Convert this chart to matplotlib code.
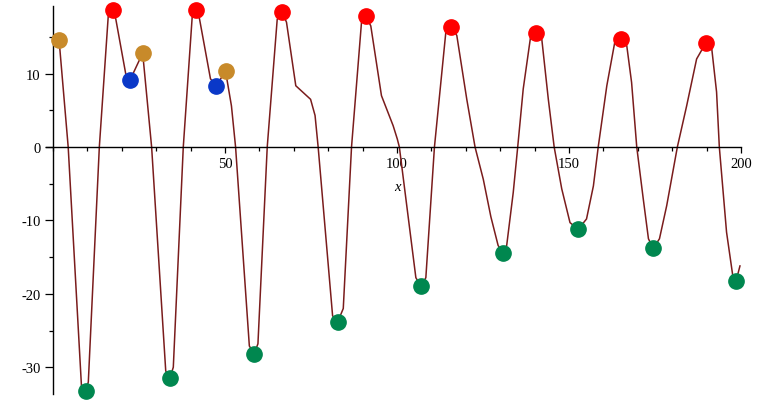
import matplotlib.pyplot as plt
from matplotlib.ticker import MultipleLocator, FixedLocator

# curve vertices
curve_x = [1.8, 4.45, 8.3, 9.5, 10.3, 13.5, 16.1, 17.6, 18.3, 21.2, 22.4, 26.1,
           28.7, 32.8, 34.0, 35.0, 37.9, 40.5, 41.6, 42.6, 45.8, 47.4, 50.2,
           51.9, 53.1, 57.1, 58.5, 59.6, 62.3, 65.2, 66.7, 67.9, 70.6, 74.9,
           76.2, 77.1, 81.3, 82.8, 84.4, 86.8, 89.7, 91.0, 92.4, 95.5, 98.9,
           100.1, 100.7, 105.5, 107.0, 108.4, 110.9, 114.2, 115.8, 117.4, 120.3,
           122.7, 125.1, 127.3, 129.4, 130.8, 131.9, 133.8, 135.1, 136.7, 138.9,
           140.4, 142.1, 144.0, 145.7, 147.9, 150.3, 152.7, 155.1, 157.1, 158.5,
           161.0, 163.4, 165.0, 166.8, 168.2, 169.7, 171.6, 173.1, 174.5, 176.3,
           178.4, 181.5, 184.2, 187.1, 189.8, 191.5, 192.9, 193.7, 195.8, 197.6,
           198.5, 199.7]
curve_y = [14.6, 0, -32.5, -33.4, -32.0, 0, 17.9, 18.7, 17.4, 9.9, 9.1, 12.8,
           0, -30.5, -31.5, -30.0, 0, 17.8, 18.7, 17.5, 9.3, 8.35, 10.3,
           5.6, 0, -27.1, -28.2, -26.8, 0, 17.4, 18.35, 17.0, 8.35, 6.5,
           4.3, 0, -23.0, -23.8, -22.0, 0, 17.0, 17.8, 16.5, 7.0, 2.9,
           1.1, 0, -17.8, -19.0, -17.8, 0, 15.6, 16.4, 15.2, 6.5,
           0, -4.4, -9.5, -13.4, -14.5, -13.4, -6.2, 0, 7.9, 15.2,
           15.5, 14.7, 6.5, 0, -5.7, -10.3, -11.2, -9.8, -5.3, 0,
           8.35, 14.5, 14.6, 13.8, 8.8, 0, -7.1, -12.5, -13.8, -12.5,
           -8.0, 0, 5.6, 12.0, 14.2, 13.4, 7.5, 0, -11.6, -17.5,
           -18.35, -16.2]

# local maxima (red)
max_x = [17.6, 41.6, 66.7, 91.0, 115.8, 140.5, 165.0, 189.8]
max_y = [18.7, 18.7, 18.35, 17.8, 16.4, 15.5, 14.7, 14.2]

# local minima (green)
min_x = [9.5, 34.0, 58.5, 82.8, 107.0, 130.8, 152.7, 174.5, 198.5]
min_y = [-33.3, -31.5, -28.2, -23.8, -19.0, -14.5, -11.2, -13.8, -18.3]

# other points (orange and blue)
orange_x = [1.8, 26.1, 50.2]
orange_y = [14.6, 12.8, 10.3]
blue_x = [22.4, 47.4]
blue_y = [9.1, 8.35]

plt.rcParams['axes.unicode_minus'] = False
plt.rcParams['font.family'] = ['Liberation Serif', 'DejaVu Serif']

fig = plt.figure(figsize=(7.6, 4.02), dpi=100)
ax = fig.add_axes([46 / 760, 1 - 395.4 / 402, (741 - 46) / 760, (395.4 - 7.1) / 402])

ax.plot(curve_x, curve_y, color='#7a1c1c', linewidth=1.1, zorder=2)

msize = 11
ax.plot(max_x, max_y, 'o', color='#ff0000', markersize=msize, zorder=3, clip_on=False)
ax.plot(min_x, min_y, 'o', color='#00874f', markersize=msize, zorder=3, clip_on=False)
ax.plot(orange_x, orange_y, 'o', color='#c88a2a', markersize=msize, zorder=3, clip_on=False)
ax.plot(blue_x, blue_y, 'o', color='#0a38c8', markersize=msize, zorder=3, clip_on=False)

ax.set_xlim(-2, 200)
ax.set_ylim(-33.7, 19.2)

# axes through the origin
ax.spines['left'].set_position(('data', 0))
ax.spines['bottom'].set_position(('data', 0))
ax.spines['top'].set_visible(False)
ax.spines['right'].set_visible(False)
for s in ['left', 'bottom']:
    ax.spines[s].set_linewidth(1.0)
    ax.spines[s].set_color('black')

ax.xaxis.set_major_locator(FixedLocator([50, 100, 150, 200]))
ax.xaxis.set_minor_locator(MultipleLocator(10))
ax.yaxis.set_major_locator(MultipleLocator(10))
ax.yaxis.set_minor_locator(MultipleLocator(5))
ax.tick_params(axis='x', which='major', length=4.5, width=0.9, labelsize=10.5, pad=3)
ax.tick_params(axis='y', which='major', length=5.5, width=0.9, labelsize=10.5, pad=3.5)
ax.tick_params(axis='both', which='minor', length=3, width=0.9)

ax.set_xlabel('x', fontstyle='italic', fontsize=10.5)
ax.xaxis.set_label_coords(102 / 202, (33.7 - 4.5) / 52.9)

fig.savefig('out.png', dpi=100, facecolor='white')
